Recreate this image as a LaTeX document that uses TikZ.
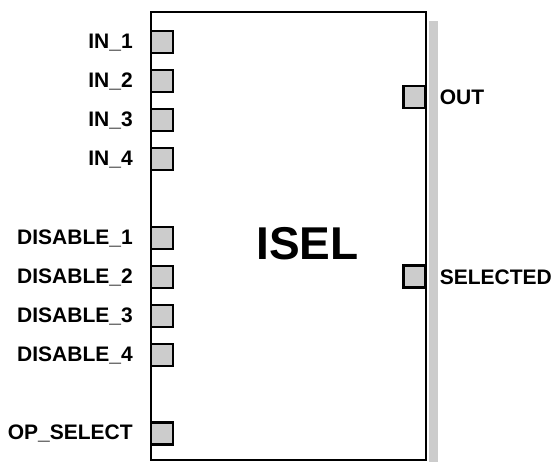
\documentclass[tikz,border=0pt]{standalone}
\usepackage{fontspec}
\setmainfont{Liberation Sans}
\usepackage{tikz}
\usetikzlibrary{positioning}
\definecolor{portgray}{RGB}{204,204,204}

\begin{document}
\begin{tikzpicture}[x=1pt, y=-1pt,
    block/.style={draw, line width=2.2pt, minimum width=275pt, minimum height=448pt, inner sep=0pt},
    port/.style={draw, line width=2.2pt, fill=portgray, minimum width=22pt, minimum height=22pt, inner sep=0pt},
    inlabel/.style={font=\fontsize{21}{24}\selectfont\bfseries, inner sep=0pt, text height=15pt, text depth=3pt},
    outlabel/.style={font=\fontsize{21}{24}\selectfont\bfseries, inner sep=0pt, text height=15pt, text depth=0pt}]
  \useasboundingbox (0,0) rectangle (553,463);

  % START: Block ------------------------------------
  \fill[portgray] (429,21) rectangle (437.5,462);
  \node[block] (isel) at (288.5,236) {};
  \node[font=\fontsize{46}{50}\selectfont\bfseries, inner sep=0pt, text height=33pt, text depth=0pt]
    (title) at (307.5,242.5) {ISEL};
  % END: Block --------------------------------------

  % START: Inputs -----------------------------------
  \node[port] (in_1) at (162,42) {};
  \node[port] (in_2) at (162,81) {};
  \node[port] (in_3) at (162,120) {};
  \node[port] (in_4) at (162,159) {};
  \node[inlabel, left=17pt of in_1] (l_in_1) {IN\_1};
  \node[inlabel, left=17pt of in_2] (l_in_2) {IN\_2};
  \node[inlabel, left=17pt of in_3] (l_in_3) {IN\_3};
  \node[inlabel, left=17pt of in_4] (l_in_4) {IN\_4};

  \node[port] (dis_1) at (162,238) {};
  \node[port] (dis_2) at (162,277) {};
  \node[port] (dis_3) at (162,316) {};
  \node[port] (dis_4) at (162,355) {};
  \node[inlabel, left=17pt of dis_1] (l_dis_1) {DISABLE\_1};
  \node[inlabel, left=17pt of dis_2] (l_dis_2) {DISABLE\_2};
  \node[inlabel, left=17pt of dis_3] (l_dis_3) {DISABLE\_3};
  \node[inlabel, left=17pt of dis_4] (l_dis_4) {DISABLE\_4};

  \node[port] (op_sel) at (162,433.5) {};
  \node[inlabel, left=17pt of op_sel] (l_op_sel) {OP\_SELECT};
  % END: Inputs -------------------------------------

  % START: Outputs ----------------------------------
  \node[port] (out) at (414.5,97) {};
  \node[port] (selected) at (414.5,276.5) {};
  \node[outlabel, right=13pt of out] (l_out) {OUT};
  \node[outlabel, right=13pt of selected] (l_selected) {SELECTED};
  % END: Outputs ------------------------------------
\end{tikzpicture}
\end{document}
